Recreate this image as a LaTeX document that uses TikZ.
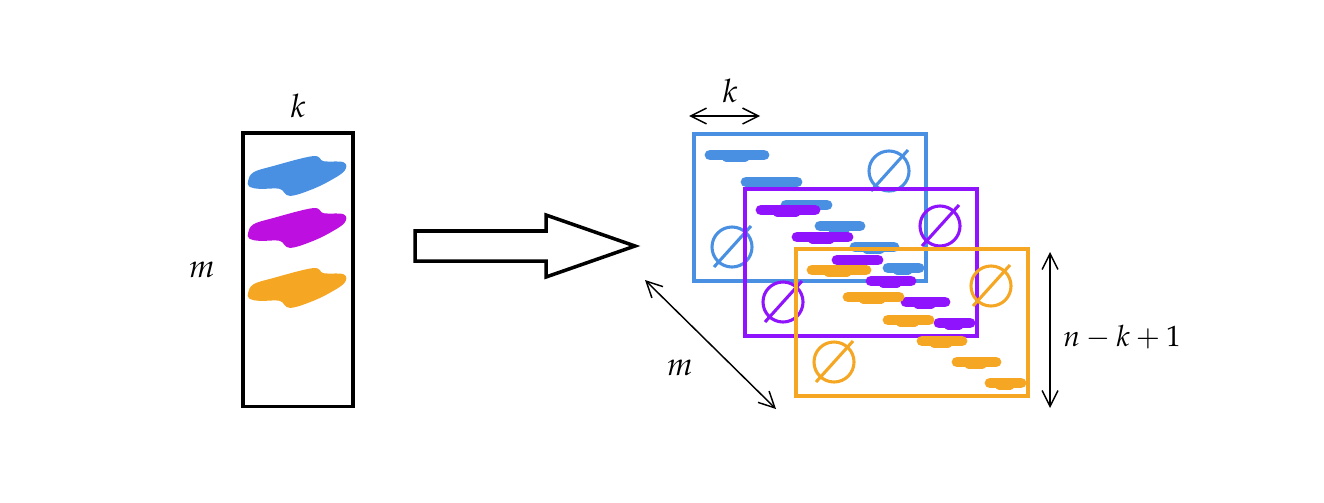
\documentclass[tikz,border=0pt]{standalone}
\usepackage{mathpazo}
\usepackage{tikz}
\usetikzlibrary{arrows.meta,positioning,calc}
\definecolor{skblue}{HTML}{4A90E2}
\definecolor{skpurple}{HTML}{9013FE}
\definecolor{skmagenta}{HTML}{BD10E0}
\definecolor{skorange}{HTML}{F5A623}

% one smeared entry, from x=#1 to x=#2 at height #3
\newcommand{\smear}[3]{%
  \draw[smear] (#1,#3) -- (#2,#3);
  \draw[smear,line width=2.8pt] ($(#1,#3)!0.3!(#2,#3)+(0,3)$) -- ($(#1,#3)!0.65!(#2,#3)+(0,3)$);}
% crossed circle
\newcommand{\nullmark}[2]{%
  \draw[frame] (#1,#2) circle[radius=0.24cm];
  \draw[frame] ($(#1,#2)+(-18,20)$) -- ($(#1,#2)+(19,-21)$);}
% a shifted copy of the matrix
\newcommand{\drawlayer}[4]{%
  \begin{scope}[shift={(#3,#4)},color=#1]
    \draw[frame] (0,0) coordinate (#2) rectangle (232,147);
    \smear{16}{70}{21}
    \smear{52}{103}{48}
    \smear{92}{133}{71}
    \smear{126}{166}{92}
    \smear{161}{200}{113}
    \smear{194}{225}{134}
    \nullmark{195}{37}
    \nullmark{38}{113}
  \end{scope}}

\begin{document}
\begin{tikzpicture}[x=0.012cm,y=-0.012cm,>=Latex,
  frame/.style={line width=1.05pt},
  smear/.style={line width=3.7pt,line cap=round},
  blob/.style={line width=0.6pt,line join=round},
  dim/.style={{Straight Barb[length=1.9mm,width=1.9mm]}-{Straight Barb[length=1.9mm,width=1.9mm]},line width=0.5pt},
  bigarrow/.style={line width=1.2pt,line join=miter}]
\useasboundingbox (0,0) rectangle (1324,502);

% left matrix
\node[draw,line width=1.2pt,minimum width=1.32cm,minimum height=3.28cm,inner sep=0pt] (col) at (298,269.5) {};
\node[scale=1.1] (ktop) at (298,106) {$k$};
\node[scale=1.1] (mleft) at (202,270) {$m$};
\foreach \c/\yy in {skblue/178,skmagenta/230,skorange/290}
  \filldraw[blob,draw=\c,fill=\c,shift={(298,\yy)}] plot[smooth cycle,tension=0.6]
    coordinates {(-49,3) (-44,-5) (-25,-11) (15,-21) (25,-16) (45,-15) (46,-8) (35,0) (15,10) (-8,17) (-18,10) (-38,10) (-48,8)};

% hollow arrow
\draw[bigarrow] (415,231) coordinate (a0) -- (546,231) -- (546,215) -- (635,246) coordinate (a1)
  -- (546,277) -- (546,261) -- (415,261) -- cycle;

% shifted copies
\drawlayer{skblue}{L1}{694}{134}
\drawlayer{skpurple}{L2}{745}{189}
\drawlayer{skorange}{L3}{796}{249}

% dimensions
\coordinate (k1) at (689,116);
\coordinate (k2) at (760,116);
\draw[dim] (k1) -- (k2);
\node[scale=1.1] (kdim) at (730,91) {$k$};
\coordinate (m1) at (645,280);
\coordinate (m2) at (776,409);
\draw[dim] (m1) -- (m2);
\node[scale=1.1] (mdim) at (680,368) {$m$};
\coordinate (n1) at (1050,252);
\coordinate (n2) at (1050,408);
\draw[dim] (n1) -- (n2);
\node (ndim) at (1122,337) {$n-k+1$};
\end{tikzpicture}
\end{document}
